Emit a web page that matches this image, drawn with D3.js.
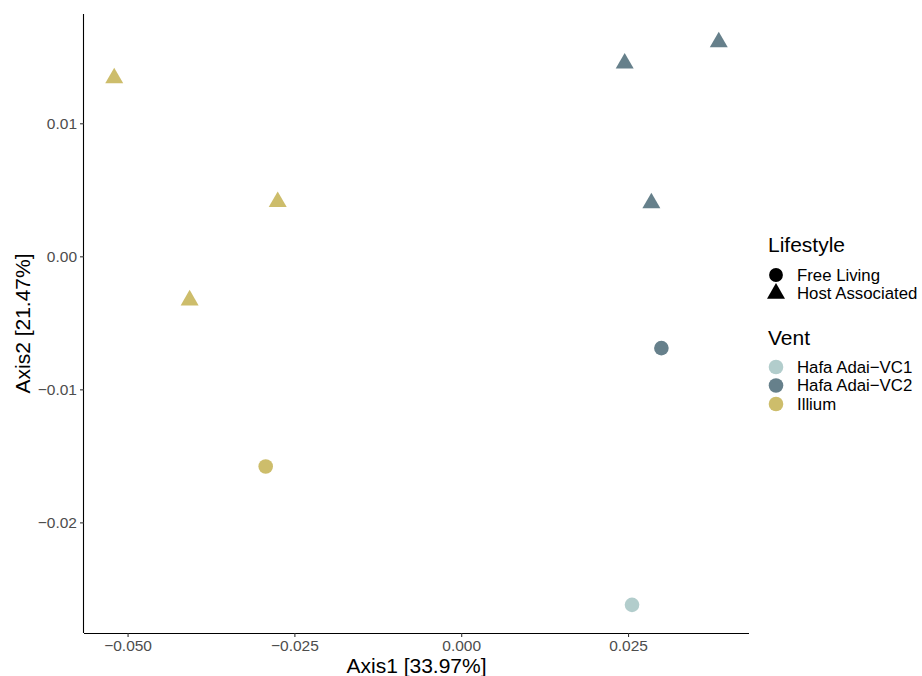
<!DOCTYPE html>
<html>
<head>
<meta charset="utf-8">
<script src="https://cdn.jsdelivr.net/npm/d3@7"></script>
<style>
  body { margin: 0; background: #fff; }
  text { font-family: "Liberation Sans", Arial, sans-serif; }
</style>
</head>
<body>
<div id="chart"></div>
<script>
// ordination data
const axis1 = [-0.0520, -0.0275, -0.0407, -0.0293, 0.0245, 0.0386, 0.0285, 0.0300, 0.0256];
const axis2 = [0.0134, 0.0041, -0.0033, -0.0158, 0.0145, 0.0161, 0.0040, -0.0069, -0.0262];
const vent = ["Illium", "Illium", "Illium", "Illium",
              "Hafa Adai-VC2", "Hafa Adai-VC2", "Hafa Adai-VC2", "Hafa Adai-VC2", "Hafa Adai-VC1"];
const lifestyle = ["Host Associated", "Host Associated", "Host Associated", "Free Living",
                   "Host Associated", "Host Associated", "Host Associated", "Free Living", "Free Living"];

const ventLevels = ["Hafa Adai-VC1", "Hafa Adai-VC2", "Illium"];
const ventLabels = ["Hafa Adai\u2212VC1", "Hafa Adai\u2212VC2", "Illium"];
const ventColors = ["#b2cdcc", "#66808b", "#cdbd6b"];
const lifeLevels = ["Free Living", "Host Associated"];

const xTicks = [-0.050, -0.025, 0.000, 0.025];
const yTicks = [-0.02, -0.01, 0.00, 0.01];

const width = 922, height = 676;
const margin = { top: 14, right: 173, bottom: 43, left: 84 };

const data = axis1.map((x, i) => ({ x, y: axis2[i], vent: vent[i], life: lifestyle[i] }));

const svg = d3.select("#chart").append("svg")
    .attr("width", width)
    .attr("height", height);

// ggplot-style 5% expansion
function expand(ext) {
    const pad = (ext[1] - ext[0]) * 0.05;
    return [ext[0] - pad, ext[1] + pad];
}

const x = d3.scaleLinear()
    .domain(expand(d3.extent(data, d => d.x)))
    .range([margin.left, width - margin.right]);
const y = d3.scaleLinear()
    .domain(expand(d3.extent(data, d => d.y)))
    .range([height - margin.bottom, margin.top]);

const color = d3.scaleOrdinal().domain(ventLevels).range(ventColors);
const minus = s => s.replace("-", "\u2212");

// axes
const xAxis = svg.append("g")
    .attr("transform", `translate(0,${height - margin.bottom})`)
    .call(d3.axisBottom(x).tickValues(xTicks).tickSize(4).tickPadding(3)
        .tickFormat(d => minus(d3.format(".3f")(d))));
const yAxis = svg.append("g")
    .attr("transform", `translate(${margin.left},0)`)
    .call(d3.axisLeft(y).tickValues(yTicks).tickSize(4).tickPadding(3)
        .tickFormat(d => minus(d3.format(".2f")(d))));

[xAxis, yAxis].forEach(g => {
    g.select(".domain").attr("stroke", "#000").attr("stroke-width", 1.1);
    g.selectAll(".tick line").attr("stroke", "#333").attr("stroke-width", 1.1);
    g.selectAll(".tick text").attr("fill", "#4d4d4d").style("font-size", "15.5px")
        .style("font-family", "'Liberation Sans', Arial, sans-serif");
});
// d3 draws outer ticks on the domain path; replace with plain lines
xAxis.select(".domain").attr("d", `M${margin.left},0.5H${width - margin.right}`);
yAxis.select(".domain").attr("d", `M-0.5,${margin.top}V${height - margin.bottom}`);

// axis titles
svg.append("text")
    .attr("x", (margin.left + width - margin.right) / 2)
    .attr("y", 673)
    .attr("text-anchor", "middle")
    .style("font-size", "21px")
    .text("Axis1 [33.97%]");
svg.append("text")
    .attr("transform", `translate(30,${(margin.top + height - margin.bottom) / 2}) rotate(-90)`)
    .attr("text-anchor", "middle")
    .style("font-size", "21px")
    .text("Axis2 [21.47%]");

// points
const tri = d3.symbol().type(d3.symbolTriangle).size(140);
const pts = svg.append("g");
pts.selectAll("path.tri")
    .data(data.filter(d => d.life === "Host Associated"))
    .join("path")
    .attr("class", "tri")
    .attr("d", tri)
    .attr("transform", d => `translate(${x(d.x)},${y(d.y)})`)
    .attr("fill", d => color(d.vent));
pts.selectAll("circle")
    .data(data.filter(d => d.life === "Free Living"))
    .join("circle")
    .attr("cx", d => x(d.x))
    .attr("cy", d => y(d.y))
    .attr("r", 7.3)
    .attr("fill", d => color(d.vent));

// legends
const lg = svg.append("g").attr("transform", "translate(768,0)");
lg.append("text").attr("x", 0).attr("y", 252).style("font-size", "21px").text("Lifestyle");
const lifeItems = lg.selectAll("g.life")
    .data(lifeLevels)
    .join("g")
    .attr("class", "life")
    .attr("transform", (d, i) => `translate(8,${275 + i * 18.5})`);
lifeItems.append("path")
    .attr("d", d => d === "Free Living"
        ? d3.symbol().type(d3.symbolCircle).size(150)()
        : d3.symbol().type(d3.symbolTriangle).size(140)())
    .attr("fill", "#000");
lifeItems.append("text")
    .attr("x", 21).attr("dy", "0.35em")
    .style("font-size", "16.8px")
    .text(d => d);

lg.append("text").attr("x", 0).attr("y", 345).style("font-size", "21px").text("Vent");
const ventItems = lg.selectAll("g.vent")
    .data(ventLevels)
    .join("g")
    .attr("class", "vent")
    .attr("transform", (d, i) => `translate(8,${367 + i * 18.5})`);
ventItems.append("circle")
    .attr("r", 7.3)
    .attr("fill", d => color(d));
ventItems.append("text")
    .attr("x", 21).attr("dy", "0.35em")
    .style("font-size", "16.8px")
    .text((d, i) => ventLabels[i]);
</script>
</body>
</html>
